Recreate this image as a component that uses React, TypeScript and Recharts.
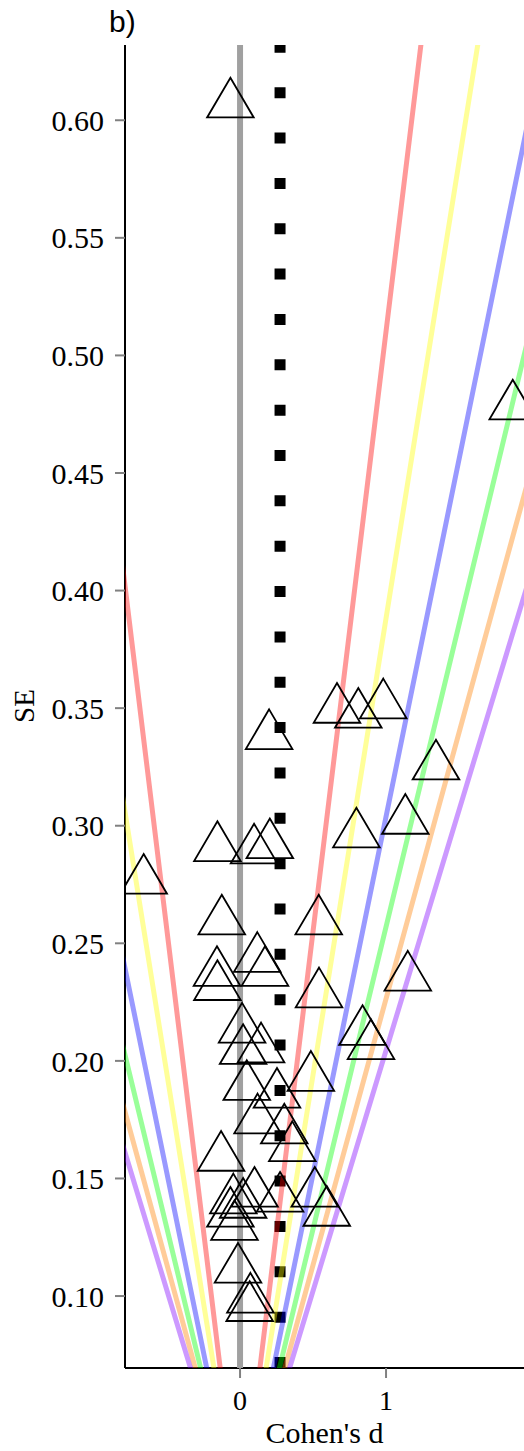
import React from 'react';
import { ComposedChart, Scatter, XAxis, YAxis } from 'recharts';

// study estimates (Cohen's d) and their standard errors
const effectSizes = [
  -0.066, 1.868, 0.664, 0.81, 0.981, 0.199, 1.342, 1.132, 0.797, -0.155, 0.096,
  0.204, -0.66, -0.125, 0.539, 0.118, 0.171, -0.158, -0.155, 1.149, 0.541, 0.839,
  0.897, 0.014, 0.021, 0.144, 0.485, 0.046, 0.253, 0.12, 0.303, 0.358, -0.13,
  0.512, 0.594, 0.274, 0.099, -0.046, 0.021, -0.066, -0.038, -0.014, 0.071, 0.066,
];
const standardErrors = [
  0.6068, 0.4784, 0.3494, 0.3473, 0.3513, 0.3382, 0.3253, 0.3022, 0.2964, 0.2906,
  0.2896, 0.2918, 0.2767, 0.2594, 0.2594, 0.2435, 0.2375, 0.2375, 0.2315, 0.2355,
  0.2284, 0.2124, 0.2064, 0.2134, 0.2043, 0.205, 0.1929, 0.189, 0.1857, 0.1748,
  0.1705, 0.163, 0.1589, 0.1436, 0.1355, 0.1415, 0.1436, 0.1408, 0.1389, 0.1351,
  0.1295, 0.1113, 0.0986, 0.095,
];

// significance contours: z = 1.96 (p .05) ... 4.89 (p .000001)
const zCutoffs = [1.96, 2.576, 3.291, 3.891, 4.417, 4.892];
const contourColours = [
  'rgba(255,0,0,0.4)',
  'rgba(255,255,0,0.4)',
  'rgba(0,0,255,0.4)',
  'rgba(0,255,0,0.4)',
  'rgba(255,128,0,0.4)',
  'rgba(128,0,255,0.4)',
];

const pooledEstimate = 0.274;
const seDomain: [number, number] = [0.0694, 0.632];
const dDomain: [number, number] = [-0.788, 1.945];
const seTicks = [0.1, 0.15, 0.2, 0.25, 0.3, 0.35, 0.4, 0.45, 0.5, 0.55, 0.6];
const dTicks = [0, 1];

const studies = effectSizes.map((d, i) => ({ d, se: standardErrors[i] }));
const seMax = 0.8;
const contours = zCutoffs.map((z) => [
  { d: -z * seMax, se: seMax },
  { d: 0, se: 0 },
  { d: z * seMax, se: seMax },
]);
const nullLine = [
  { d: 0, se: seDomain[0] },
  { d: 0, se: seDomain[1] },
];
const pooledLine = [
  { d: pooledEstimate, se: seDomain[0] },
  { d: pooledEstimate, se: seDomain[1] },
];

const serif = '"Liberation Serif", "Times New Roman", serif';
const noDot = () => <g />;

const Triangle = (props: any) => {
  const { cx, cy } = props;
  if (cx == null || cy == null) return <g />;
  const hw = 23.3;
  return (
    <path
      d={`M${cx},${cy - 26.5} L${cx + hw},${cy + 13.2} L${cx - hw},${cy + 13.2} Z`}
      fill="none"
      stroke="#000"
      strokeWidth={1.8}
    />
  );
};

export default function App() {
  return (
    <div
      style={{
        position: 'absolute',
        left: 0,
        top: 0,
        width: 524,
        height: 1451,
        background: '#fff',
        fontFamily: serif,
      }}
    >
      <ComposedChart
        width={524}
        height={1451}
        margin={{ top: 45, right: 0, bottom: 33, left: 45 }}
        style={{ fontFamily: serif }}
      >
        <XAxis
          type="number"
          dataKey="d"
          domain={dDomain}
          allowDataOverflow
          ticks={dTicks}
          height={50}
          tickSize={10}
          tickMargin={12}
          axisLine={{ stroke: '#000', strokeWidth: 2 }}
          tickLine={{ stroke: '#808080', strokeWidth: 2 }}
          tick={{ fill: '#000', fontSize: 28, style: { fontFamily: serif } }}
        />
        <YAxis
          type="number"
          dataKey="se"
          domain={seDomain}
          allowDataOverflow
          ticks={seTicks}
          width={80}
          tickSize={10}
          tickMargin={11}
          tickFormatter={(v: number) => v.toFixed(2)}
          axisLine={{ stroke: '#000', strokeWidth: 2 }}
          tickLine={{ stroke: '#808080', strokeWidth: 2 }}
          tick={{ fill: '#000', fontSize: 30, style: { fontFamily: serif } }}
        />
        <Scatter
          data={nullLine}
          line={{ stroke: '#a0a0a0', strokeWidth: 6 }}
          shape={noDot}
          isAnimationActive={false}
        />
        <Scatter
          data={pooledLine}
          line={{ stroke: '#000', strokeWidth: 11, strokeDasharray: '11 34.35' }}
          shape={noDot}
          isAnimationActive={false}
        />
        {contours.map((pts, i) => (
          <Scatter
            key={i}
            data={pts}
            line={{ stroke: contourColours[i], strokeWidth: 5 }}
            shape={noDot}
            isAnimationActive={false}
          />
        ))}
        <Scatter data={studies} shape={Triangle} isAnimationActive={false} />
      </ComposedChart>
      <svg
        width={524}
        height={1451}
        style={{ position: 'absolute', left: 0, top: 0, pointerEvents: 'none' }}
      >
        <text x={109} y={32} fontSize={30} fontFamily='"Liberation Sans", Arial, sans-serif' fill="#000">
          b)
        </text>
        <text
          x={34}
          y={706}
          fontSize={29}
          fontFamily={serif}
          fill="#000"
          textAnchor="middle"
          transform="rotate(-90 34 706)"
        >
          SE
        </text>
        <text x={324.5} y={1443} fontSize={30} fontFamily={serif} fill="#000" textAnchor="middle">
          Cohen's d
        </text>
      </svg>
    </div>
  );
}
